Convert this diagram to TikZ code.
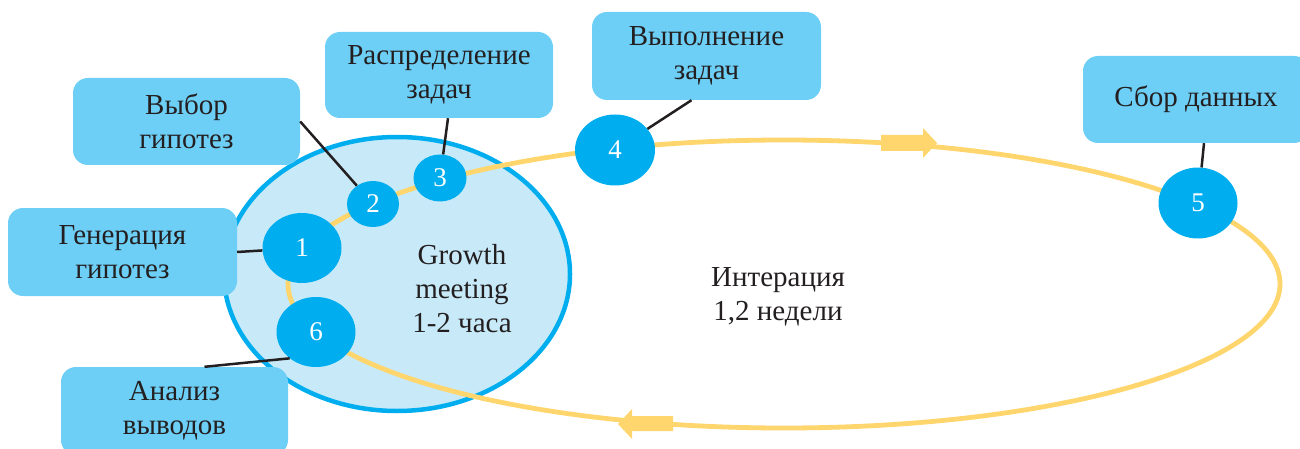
\documentclass[tikz,border=0pt]{standalone}
\usepackage{fontspec}
\setmainfont{Liberation Serif}
\newfontfamily\serf{LiberationSerif-Regular.ttf}
\usetikzlibrary{shapes.geometric}
\definecolor{boxblue}{HTML}{6DCFF6}
\definecolor{cyanb}{HTML}{00AEEF}
\definecolor{paleblue}{HTML}{C7E9F8}
\definecolor{ylw}{HTML}{FFD66E}
\definecolor{txt}{HTML}{231F20}
\begin{document}
\begin{tikzpicture}[x=1pt,y=-1pt,
  lbl/.style={fill=boxblue, rounded corners=15pt, text=txt, align=center,
    font=\serf\fontsize{29}{34}\selectfont, inner sep=0pt},
  num/.style={ellipse, fill=cyanb, text=white, font=\serf\fontsize{27}{30}\selectfont, inner sep=0pt},
  conn/.style={draw=txt, line width=2.5pt},
  plain/.style={text=txt, align=center, font=\serf\fontsize{29}{34}\selectfont},
  blockarrow/.style={fill=ylw, draw=none}]
\useasboundingbox (0,0) rectangle (1300,449);

% Growth meeting ellipse
\node[ellipse, draw=cyanb, fill=paleblue, line width=4.5pt, minimum width=346pt, minimum height=274pt, inner sep=0pt] (meet) at (397,274) {};

% iteration cycle
\draw[ylw, line width=4.8pt] (784,284) ellipse [x radius=496pt, y radius=144pt];

% direction arrows on the cycle
\fill[blockarrow] (881,135) -- (923,135) -- (923,128) -- (937,143) -- (923,158) -- (923,151) -- (881,151) -- cycle;
\fill[blockarrow] (673,416) -- (632,416) -- (632,409) -- (618,424) -- (632,439) -- (632,431) -- (673,431) -- cycle;

% step circles
\node[num, minimum width=79pt, minimum height=70pt] (n1) at (302,248) {1};
\node[num, minimum width=52pt, minimum height=46pt] (n2) at (373,204) {2};
\node[num, minimum width=53pt, minimum height=47pt] (n3) at (440,178) {3};
\node[num, minimum width=80pt, minimum height=71pt] (n4) at (615,150) {4};
\node[num, minimum width=79pt, minimum height=71pt] (n5) at (1198,203) {5};
\node[num, minimum width=79pt, minimum height=70pt] (n6) at (316,332) {6};

% label boxes
\node[lbl, minimum width=227pt, minimum height=87pt] (vybor) at (186.5,121.5) {Выбор\\гипотез};
\node[lbl, minimum width=228pt, minimum height=86pt] (rasp) at (439,75) {Распределение\\задач};
\node[lbl, minimum width=229pt, minimum height=88pt] (vyp) at (706.5,56) {Выполнение\\задач};
\node[lbl, minimum width=226pt, minimum height=87pt] (sbor) at (1196,99.5) {Сбор данных};
\node[lbl, minimum width=229pt, minimum height=88pt] (gen) at (122.5,252) {Генерация\\гипотез};
\node[lbl, minimum width=227pt, minimum height=88pt] (anal) at (174.5,411) {Анализ\\выводов};

% connectors
\draw[conn] (vybor.east) -- (n2);
\draw[conn] ([xshift=9pt]rasp.south) -- (n3);
\draw[conn] ([xshift=-15pt]vyp.south) -- (n4);
\draw[conn] ([xshift=8pt]sbor.south) -- (n5);
\draw[conn] (gen.east) -- (n1);
\draw[conn] ([xshift=30pt]anal.north) -- (n6.225);

% texts
\node[plain] (growth) at (462,289) {Growth\\meeting\\1-2 часа};
\node[plain] (iter) at (778,297) {Интерация\\1,2 недели};
\end{tikzpicture}
\end{document}
